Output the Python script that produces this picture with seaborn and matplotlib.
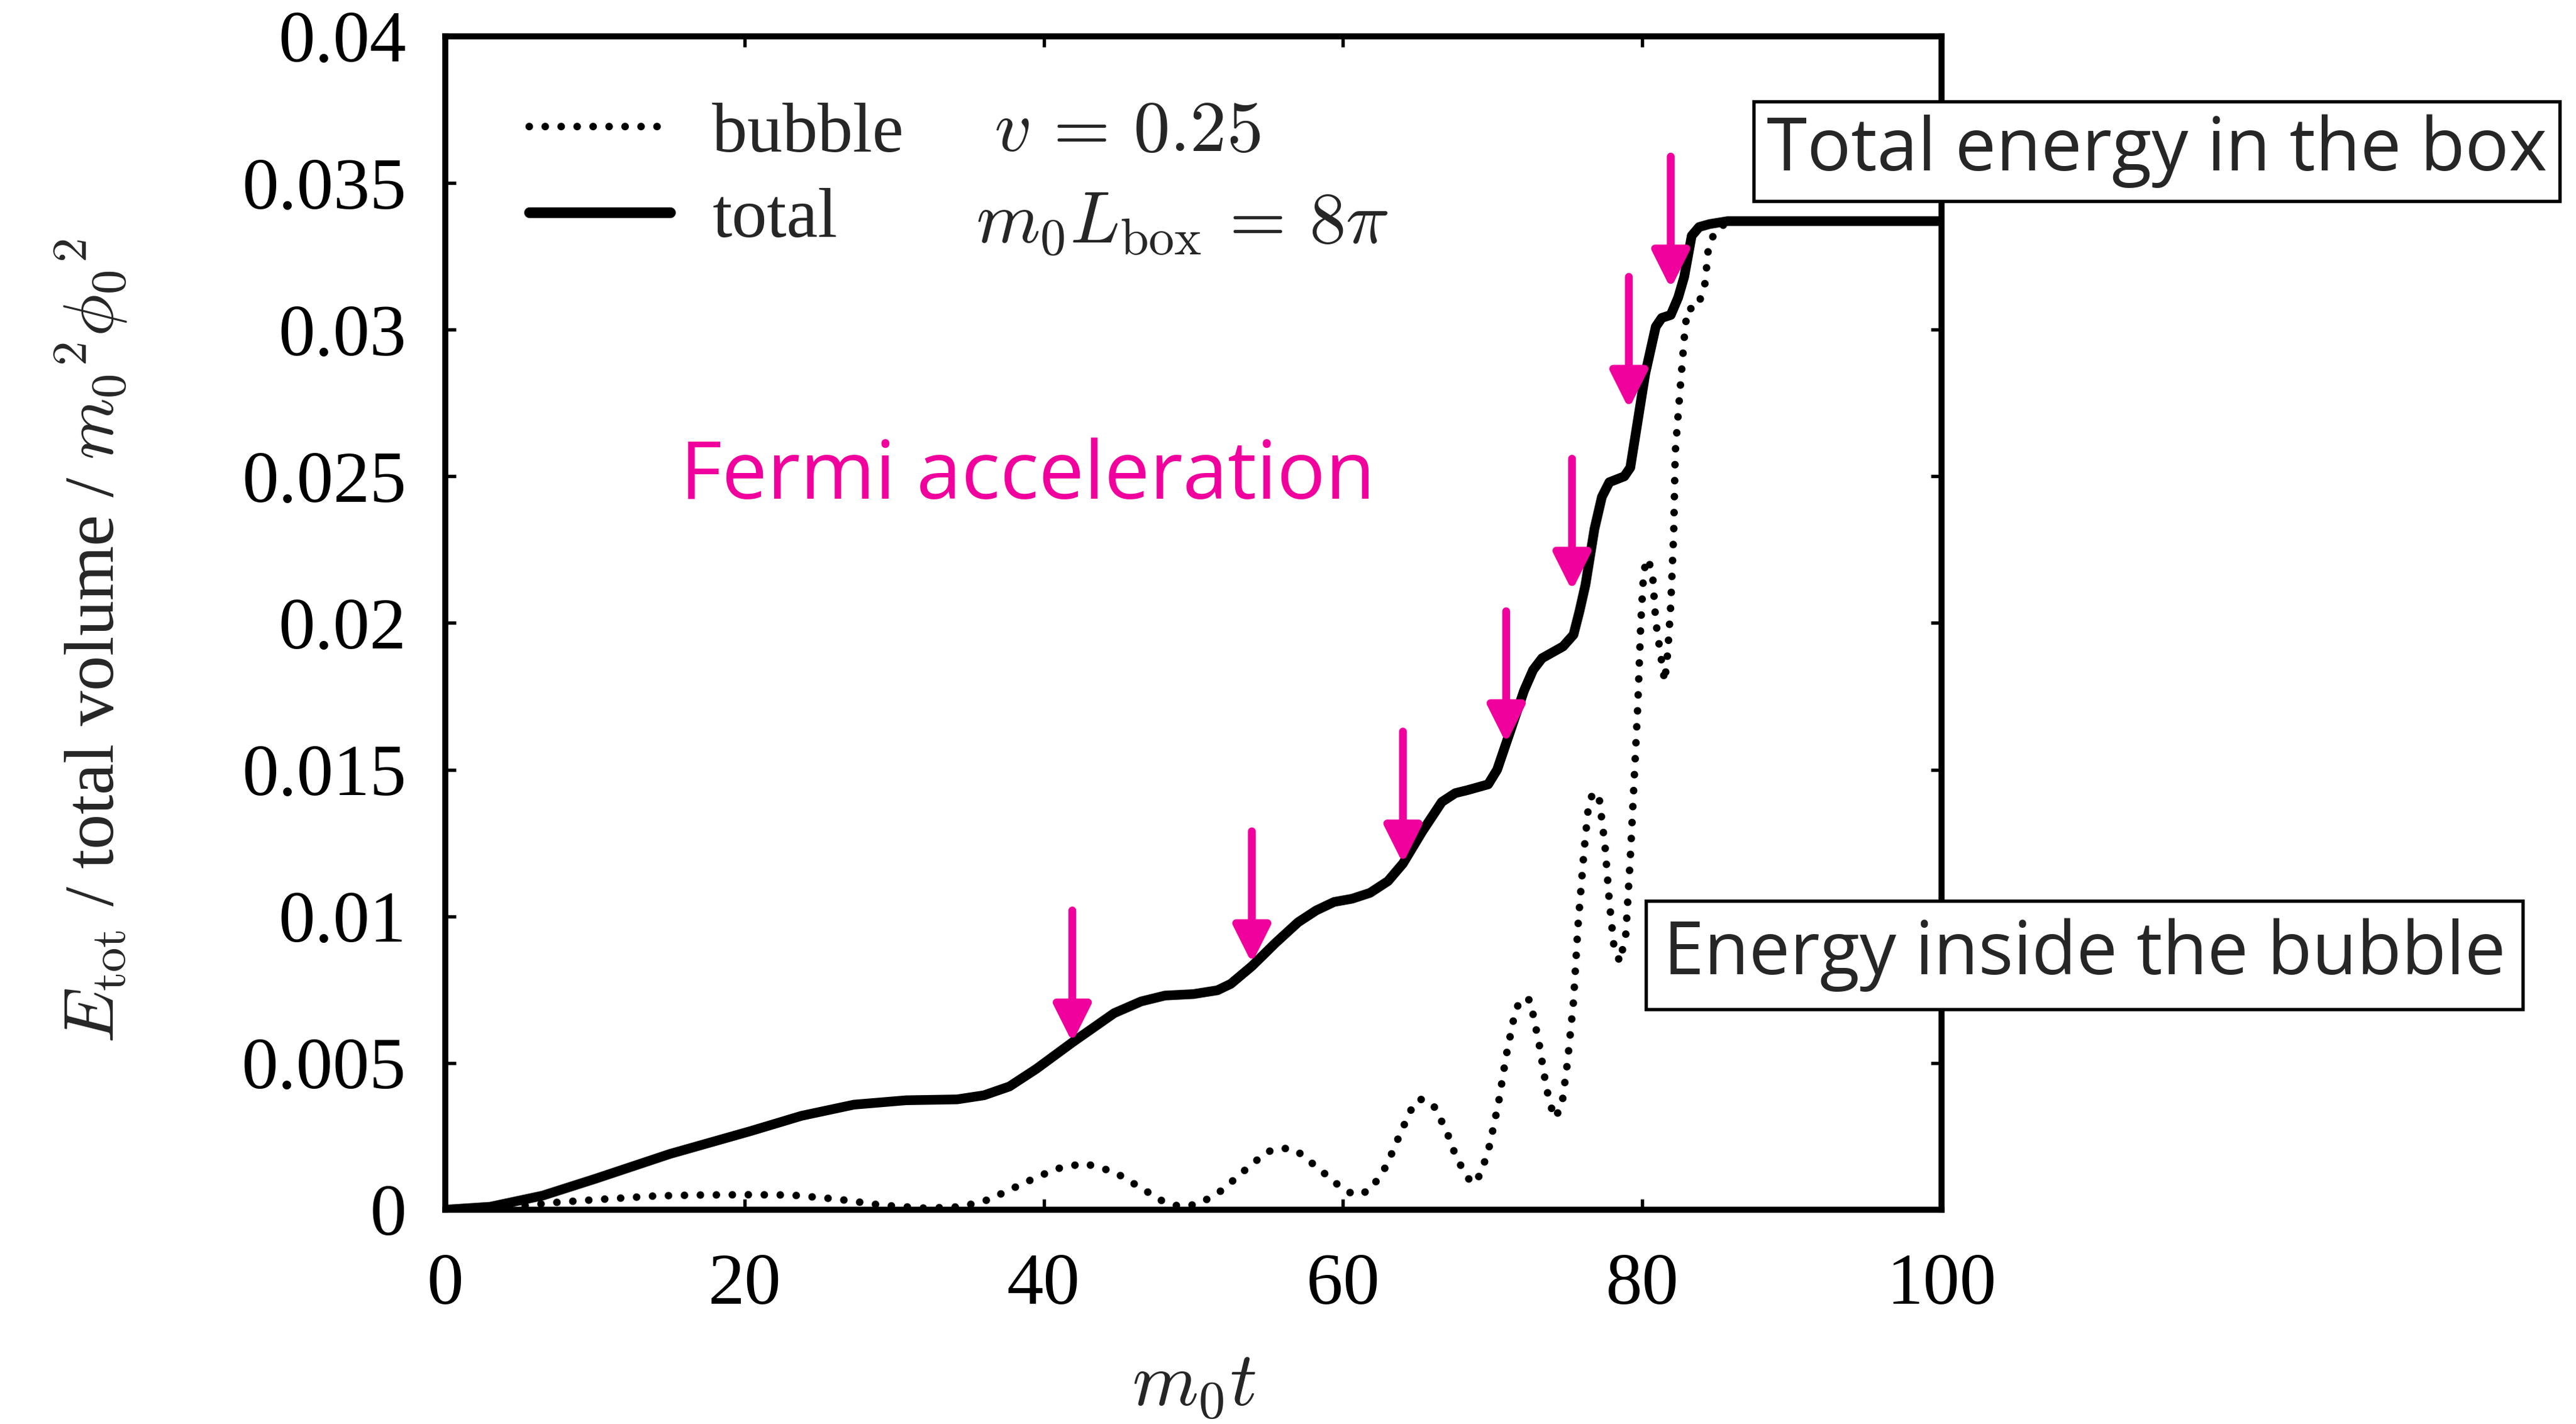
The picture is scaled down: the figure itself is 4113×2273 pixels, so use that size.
import numpy as np
import pandas as pd
import matplotlib
matplotlib.use('Agg')
import matplotlib.pyplot as plt
import seaborn as sns
from matplotlib.lines import Line2D

# ---------------- data ----------------
t_total = [0, 3, 6.5, 10, 15, 20.4, 23.8, 27.3, 30.8, 34.2, 36, 37.7, 39.5, 41.9,
           44.7, 46.5, 48.1, 50, 51.6, 52.5, 53.9, 55.5, 57, 58.2, 59.4, 60.6, 61.8,
           63, 64, 65.3, 66.6, 67.5, 68.3, 69.7, 70.3, 70.9, 71.5, 72.1, 72.7, 73.3,
           74.0, 74.7, 75.4, 75.8, 76.2, 76.8, 77.3, 77.8, 78.3, 78.8, 79.2, 79.7,
           80.2, 80.9, 81.3, 81.9, 82.4, 82.8, 83.3, 83.8, 84.5, 85.7, 100]
e_total = [0, 0.0001, 0.00048, 0.00105, 0.0019, 0.00268, 0.0032, 0.00358, 0.00373,
           0.00376, 0.0039, 0.0042, 0.0048, 0.0057, 0.0067, 0.0071, 0.0073, 0.00735,
           0.00748, 0.0077, 0.0083, 0.0091, 0.0098, 0.0102, 0.01049, 0.0106, 0.0108,
           0.0112, 0.0118, 0.0129, 0.0139, 0.0142, 0.0143, 0.0145, 0.0150, 0.0159,
           0.0168, 0.0177, 0.0184, 0.0188, 0.0190, 0.0192, 0.0196, 0.0204, 0.0213,
           0.0232, 0.0243, 0.0248, 0.0249, 0.0250, 0.0253, 0.0269, 0.0285, 0.0301,
           0.0304, 0.0305, 0.0311, 0.0318, 0.0332, 0.0335, 0.0336, 0.0337, 0.0337]

t_bubble = [0, 3, 5, 7.2, 10, 14.1, 17, 20.2, 23.1, 26.2, 29.2, 32.1, 34.5, 36.3,
            38.9, 40.8, 42.7, 44.7, 46.4, 48.1, 49.2, 50.4, 51.9, 53.4, 54.9, 55.9,
            56.8, 58.4, 60.0, 60.8, 61.8, 62.9, 63.7, 64.5, 65.1, 66.0, 66.9, 67.6,
            68.6, 69.2, 69.8, 70.4, 70.9, 71.5, 71.9, 72.5, 73.1, 73.6, 74.1, 74.6,
            75.0, 75.4, 75.7, 76.1, 76.4, 76.7, 77.1, 77.5, 77.8, 78.1, 78.5, 78.9,
            79.2, 79.5, 79.7, 79.9, 80.1, 80.4, 80.7, 80.9, 81.2, 81.5, 81.7, 81.9,
            82.1, 82.2, 82.5, 82.8, 83.0, 83.7, 84.2, 84.4, 84.8, 85.5, 86.5, 100]
e_bubble = [0, 0.00005, 0.00012, 0.00024, 0.00034, 0.00047, 0.0005, 0.00051, 0.0005,
            0.00036, 0.00015, 0.00005, 0.0001, 0.00034, 0.00096, 0.00139, 0.00158,
            0.00129, 0.00077, 0.00024, 0.0001, 0.0002, 0.00066, 0.00133, 0.00197,
            0.0021, 0.00205, 0.00139, 0.0007, 0.0005, 0.00065, 0.0015, 0.00245,
            0.00337, 0.00378, 0.0036, 0.0027, 0.00174, 0.00088, 0.0012, 0.0022,
            0.00367, 0.00524, 0.00675, 0.0072, 0.00715, 0.00566, 0.00412, 0.00313,
            0.00347, 0.00504, 0.0071, 0.00967, 0.0122, 0.01375, 0.01422, 0.0141,
            0.01245, 0.01049, 0.009, 0.00844, 0.0094, 0.012, 0.0151, 0.0172, 0.0200,
            0.0218, 0.0222, 0.02155, 0.02005, 0.0190, 0.0180, 0.0190, 0.0206, 0.0231,
            0.0258, 0.0278, 0.0297, 0.0307, 0.03075, 0.0316, 0.0327, 0.0333, 0.0336,
            0.0337, 0.0337]

arrow_t = [41.9, 53.9, 64.0, 70.9, 75.3, 79.1, 81.9]
arrow_tip = [0.0057, 0.0084, 0.0118, 0.0159, 0.0211, 0.0273, 0.0314]
arrow_len = 0.0045

x_ticks = [0, 20, 40, 60, 80, 100]
y_ticks = [0, 0.005, 0.01, 0.015, 0.02, 0.025, 0.03, 0.035, 0.04]
y_tick_labels = ['0', '0.005', '0.01', '0.015', '0.02', '0.025', '0.03', '0.035', '0.04']
legend_labels = ['bubble', 'total']

MAG = '#F0009C'
SANS = ['Open Sans', 'DejaVu Sans']

# ---------------- style ----------------
sns.set_theme(style='ticks')
plt.rcParams['font.family'] = ['Liberation Serif', 'DejaVu Serif']
plt.rcParams['mathtext.fontset'] = 'cm'

fig = plt.figure(figsize=(4113 / 300, 2273 / 300), dpi=300)
ax = fig.add_axes([0.1729, 0.1505, 0.5808, 0.824])

df_b = pd.DataFrame({'t': t_bubble, 'E': e_bubble})
df_t = pd.DataFrame({'t': t_total, 'E': e_total})

LW_B = 2.9
LW_T = 3.7
DOTS = (0, (0.01, 2.1))
sns.lineplot(data=df_b, x='t', y='E', ax=ax, color='black', linewidth=LW_B,
             estimator=None, sort=False, legend=False)
lb = ax.lines[-1]
lb.set_linestyle(DOTS)
lb.set_dash_capstyle('round')

sns.lineplot(data=df_t, x='t', y='E', ax=ax, color='black', linewidth=LW_T,
             estimator=None, sort=False, legend=False)
ax.lines[-1].set_solid_capstyle('round')
ax.lines[-1].set_solid_joinstyle('round')

ax.set_xlim(0, 100)
ax.set_ylim(0, 0.04)
ax.set_xticks(x_ticks)
ax.set_xticklabels([str(v) for v in x_ticks])
ax.set_yticks(y_ticks)
ax.set_yticklabels(y_tick_labels)

for s in ax.spines.values():
    s.set_linewidth(2.3)
    s.set_color('black')
    s.set_visible(True)

ax.tick_params(which='both', direction='in', top=True, right=True,
               length=4, width=1.3, color='black', labelsize=28, labelcolor='black')
ax.tick_params(axis='y', pad=15)
ax.tick_params(axis='x', pad=16.5)

ax.set_xlabel(r'$m_0t$', fontsize=29, va='center')
ax.xaxis.set_label_coords(0.5, -0.1516)
ax.set_ylabel(r'$E_{\mathrm{tot}}$ / total volume / $m_0{}^2\phi_0{}^2$',
              fontsize=27, va='center')
ax.yaxis.set_label_coords(-0.237, 0.485)

# arrows
for t, tip in zip(arrow_t, arrow_tip):
    ax.annotate('', xy=(t, tip), xytext=(t, tip + arrow_len),
                arrowprops=dict(arrowstyle='-|>,head_length=0.6,head_width=0.3',
                                color=MAG, lw=3.0, shrinkA=0, shrinkB=0,
                                mutation_scale=20))

# legend
handles = [Line2D([], [], color='black', lw=LW_B, linestyle=DOTS, dash_capstyle='round'),
           Line2D([], [], color='black', lw=LW_T + 0.4, solid_capstyle='round')]
ax.legend(handles, legend_labels, loc='upper left', bbox_to_anchor=(0.056, 0.944),
          frameon=False, fontsize=27, handlelength=2.0, handletextpad=0.6,
          labelspacing=0.3, borderpad=0, borderaxespad=0)

ax.text(0.3666, 0.917, r'$v\,=\,0.25$', transform=ax.transAxes, fontsize=28,
        va='center', ha='left')
ax.text(0.3546, 0.839, r'$m_0 L_{\mathrm{box}}\,=\,8\pi$', transform=ax.transAxes,
        fontsize=28, va='center', ha='left')

ax.text(0.157, 0.6235, 'Fermi acceleration', transform=ax.transAxes, color=MAG,
        fontsize=31, family=SANS, va='center', ha='left')

ax.text(1.1438, 0.902, 'Total energy in the box', transform=ax.transAxes,
        fontsize=28, family=SANS, ha='center', va='center',
        bbox=dict(boxstyle='square,pad=0.18', fc='white', ec='black', lw=1.3),
        clip_on=False, zorder=5)
ax.text(1.0955, 0.217, 'Energy inside the bubble', transform=ax.transAxes,
        fontsize=28, family=SANS, ha='center', va='center',
        bbox=dict(boxstyle='square,pad=0.24', fc='white', ec='black', lw=1.3),
        clip_on=False, zorder=5)

fig.savefig('out.png', dpi=300, facecolor='white')
